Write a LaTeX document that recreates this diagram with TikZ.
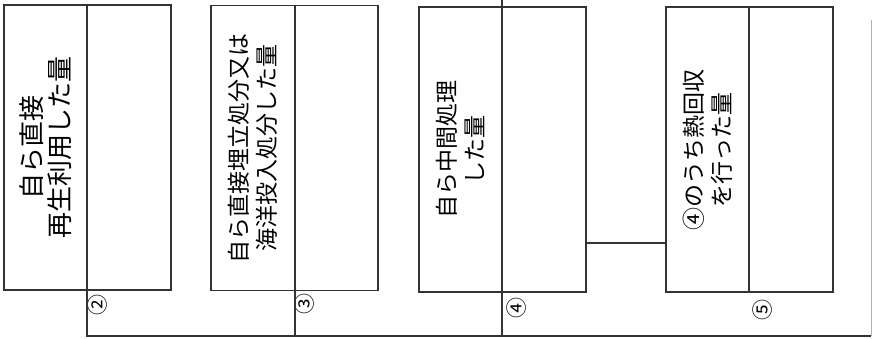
\documentclass[tikz,border=0pt]{standalone}
\usepackage{fontspec}
\newfontfamily\jp{Noto Sans CJK JP}
\usetikzlibrary{positioning}

\begin{document}
\begin{tikzpicture}
 [ x=1pt, y=-1pt
 , line/.style={line width=1.7pt, black!80}
 , cell/.style={line, draw, minimum width=83.5pt, minimum height=285pt, inner sep=0pt, outer sep=0pt}
 , caption/.style={rotate=90, align=center, inner sep=0pt, font=\jp\fontsize{23}{28}\selectfont}
 , bigcaption/.style={caption, font=\jp\fontsize{26}{28}\selectfont}
 , num/.style={rotate=90, inner sep=0pt, font=\jp\fontsize{21}{21}\selectfont}
 ]
  \useasboundingbox (0,0) rectangle (873,338);
  % the four boxes, label half and value half
  \node [cell, label={[bigcaption]center:自ら直接\\再生利用した量}] (recycle) at (45.5,147.5) {};
  \node [cell, right=0pt of recycle] (recycleval) {};
  \node [cell, label={[caption]center:自ら直接埋立処分又は\\海洋投入処分した量}] (landfill) at (253,148) {};
  \node [cell, right=0pt of landfill] (landfillval) {};
  \node [cell, label={[caption]center:自ら中間処理\\した量}] (treat) at (460.5,149.5) {};
  \node [cell, right=0pt of treat] (treatval) {};
  \node [cell, label={[caption]center:④のうち熱回収\\を行った量}] (heat) at (707.5,149.5) {};
  \node [cell, right=0pt of heat] (heatval) {};
  % circled numbers
  \node [num] (n2) at (98,305) {②};
  \node [num] (n3) at (305,304) {③};
  \node [num] (n4) at (517,308) {④};
  \node [num] (n5) at (763,310) {⑤};
  % connectors
  \coordinate (top) at (0,0);
  \coordinate (base) at (0,336);
  \coordinate (link) at (0,243);
  \coordinate (edge) at (871,336);
  \draw [line] (recycle.south east) -- (recycle.south east |- base) -- (edge);
  \draw [line] (landfill.south east) -- (landfill.south east |- base);
  \draw [line] (treat.east |- top) -- (treat.north east);
  \draw [line] (treat.south east) -- (treat.south east |- base);
  \draw [line] (treatval.east |- link) -- (heat.west |- link);
  \draw [black!30, line width=0.8pt] (edge) -- (871,20);
\end{tikzpicture}
\end{document}
